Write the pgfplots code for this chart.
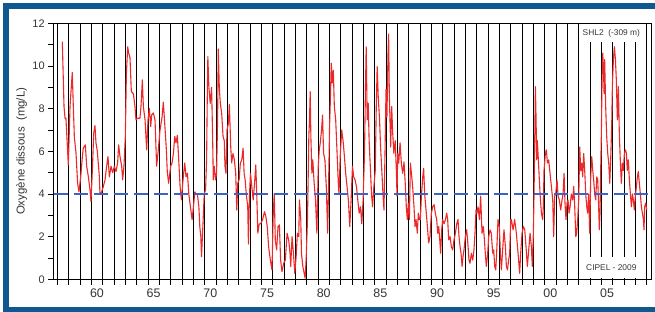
\documentclass[border=0pt]{standalone}
\usepackage{fontspec}
\setmainfont{Liberation Sans}
\usepackage{pgfplots}
\pgfplotsset{compat=1.18}
\definecolor{frameblue}{RGB}{16,88,144}
\definecolor{dataRed}{RGB}{236,40,40}
\definecolor{dashblue}{RGB}{60,100,200}
\definecolor{txtgray}{RGB}{55,55,55}
\begin{document}
\begin{tikzpicture}[x=1bp,y=1bp]
\useasboundingbox (0,0) rectangle (655,311);
\fill[white] (0,0) rectangle (655,311);
\begin{scope}
\clip (0,0) rectangle (655,311);
\draw[frameblue, line width=6bp] (6.3,1) rectangle (670,304.7);
\end{scope}
\begin{axis}[
  at={(53.7bp,31.7bp)}, anchor=south west,
  width=597.3bp, height=256bp, scale only axis,
  xmin=1956.68, xmax=2009.38, ymin=0, ymax=12,
  /pgf/number format/assume math mode=true,
  axis line style={black, line width=0.8bp},
  tick style={black, line width=0.8bp},
  tick align=outside, tick pos=left,
  xtick={1957,...,2009}, xticklabels={},
  major tick length=5.5bp, minor tick length=5.5bp,
  xmajorgrids, major grid style={black, line width=0.8bp},
  extra x ticks={1960.5,1965.5,1970.5,1975.5,1980.5,1985.5,1990.5,1995.5,2000.5,2005.5},
  extra x tick labels={60,65,70,75,80,85,90,95,00,05},
  extra x tick style={grid=none, major tick length=0pt, xticklabel style={yshift=-6bp}},
  xticklabel style={font=\fontsize{12.5}{13}\selectfont, text=txtgray},
  ytick={0,2,...,12}, minor ytick={1,3,...,11},
  yticklabel style={font=\fontsize{11}{12}\selectfont, text=txtgray},
  ylabel={Oxygène dissous\ \ (mg/L)},
  ylabel style={font=\fontsize{11.5}{12}\selectfont, text=txtgray, at={(axis description cs:0,0.5)}, anchor=center, yshift=32bp},
]
\addplot[dataRed, line width=1.1bp, line join=round] coordinates {
(1957.44,11.14) (1957.59,8.10) (1957.68,7.55) (1957.76,7.55) (1957.97,5.36) (1958.12,8.10) (1958.18,8.60) (1958.32,9.70) (1958.41,8.10) (1958.50,6.70) (1958.65,5.90) (1958.79,4.50) (1958.91,4.10) (1959.06,4.80) (1959.21,5.75) (1959.29,6.15) (1959.47,6.30) (1959.59,5.30) (1959.74,4.80) (1959.88,4.20) (1959.97,3.65) (1960.09,5.10) (1960.21,6.85) (1960.32,7.20) (1960.41,6.40) (1960.53,6.00) (1960.71,4.80) (1960.76,4.00) (1960.91,4.10) (1961.06,4.35) (1961.21,4.66) (1961.35,5.30) (1961.47,5.75) (1961.59,4.80) (1961.74,5.30) (1961.88,5.00) (1962.03,5.30) (1962.18,5.05) (1962.32,5.45) (1962.41,6.30) (1962.53,5.75) (1962.68,5.30) (1962.76,4.66) (1962.88,5.30) (1963.00,6.70) (1963.09,9.60) (1963.21,10.90) (1963.29,10.60) (1963.41,10.40) (1963.53,8.80) (1963.71,8.70) (1963.85,8.10) (1963.94,7.47) (1964.09,7.55) (1964.29,7.55) (1964.38,8.10) (1964.50,9.35) (1964.59,8.10) (1964.74,7.47) (1964.88,6.07) (1965.00,7.47) (1965.12,8.00) (1965.24,7.16) (1965.32,7.70) (1965.47,7.80) (1965.62,7.47) (1965.76,5.30) (1965.91,6.07) (1966.06,7.00) (1966.24,7.60) (1966.35,8.30) (1966.50,7.10)
(1966.62,6.07) (1966.70,5.05) (1966.82,4.50) (1967.00,5.30) (1967.12,5.45) (1967.24,5.90) (1967.36,6.70) (1967.47,6.40) (1967.59,6.75) (1967.71,5.60) (1967.83,4.35) (1967.95,3.72) (1968.09,4.66) (1968.24,5.45) (1968.36,4.80) (1968.48,4.97) (1968.60,4.00) (1968.78,3.25) (1968.89,2.80) (1969.01,3.40) (1969.13,4.10) (1969.25,4.00) (1969.37,3.95) (1969.49,3.40) (1969.57,2.47) (1969.66,2.00) (1969.72,1.06) (1969.84,2.47) (1969.96,4.00) (1970.08,4.20) (1970.17,5.60) (1970.22,8.10) (1970.28,10.44) (1970.37,9.00) (1970.49,8.25) (1970.61,9.00) (1970.70,6.70) (1970.76,4.66) (1970.85,5.30) (1970.96,4.66) (1971.05,4.97) (1971.14,7.47) (1971.20,10.80) (1971.29,9.00) (1971.38,8.25) (1971.50,7.80) (1971.62,6.70) (1971.73,6.50) (1971.79,5.30) (1971.88,4.97) (1971.97,7.00) (1972.09,7.30) (1972.18,8.20) (1972.30,6.20) (1972.38,5.45) (1972.50,5.90) (1972.62,5.60) (1972.74,4.97) (1972.83,3.25) (1972.92,4.50) (1973.04,4.66) (1973.15,5.45) (1973.27,5.60) (1973.39,6.15) (1973.48,4.97) (1973.57,4.66) (1973.69,3.90) (1973.80,3.40) (1973.86,1.65) (1973.95,3.90) (1974.04,4.97) (1974.16,4.35) (1974.28,3.72) (1974.40,4.50) (1974.51,5.36) (1974.60,3.90) (1974.69,2.16) (1974.81,2.60) (1974.93,2.60) (1975.11,2.80) (1975.28,3.17) (1975.40,2.94) (1975.52,2.47) (1975.64,1.54) (1975.79,0.91) (1975.94,0.44) (1976.05,3.10) (1976.14,4.00) (1976.23,1.85) (1976.35,1.38) (1976.47,2.47) (1976.59,2.55) (1976.70,0.91) (1976.82,0.36) (1976.97,0.75) (1977.12,0.91) (1977.27,2.16) (1977.41,1.85) (1977.53,1.22)
(1977.59,0.60) (1977.71,2.00) (1977.83,1.22) (1977.95,0.28) (1978.07,1.07) (1978.18,2.16) (1978.30,2.00) (1978.36,3.72) (1978.48,2.80) (1978.54,1.22) (1978.66,0.60) (1978.78,0.28) (1978.86,0.05) (1978.95,0.91) (1979.07,2.80) (1979.13,4.66) (1979.19,6.70) (1979.25,7.47) (1979.31,8.80) (1979.37,6.70) (1979.46,4.97) (1979.54,5.60) (1979.66,4.50) (1979.78,3.72) (1979.90,2.16) (1980.02,5.30) (1980.11,6.07) (1980.20,6.40) (1980.31,7.00) (1980.40,7.70) (1980.49,5.90) (1980.61,5.60) (1980.73,4.35) (1980.85,2.16) (1980.93,4.35) (1981.02,7.16) (1981.08,8.25) (1981.17,10.13) (1981.26,9.20) (1981.35,9.80) (1981.44,8.10) (1981.56,7.47) (1981.67,6.07) (1981.79,4.50) (1981.85,4.00) (1981.97,5.90) (1982.09,7.00) (1982.21,6.50) (1982.33,5.75) (1982.44,4.97) (1982.56,4.35) (1982.68,3.72) (1982.80,2.47) (1982.92,3.72) (1983.04,5.30) (1983.15,4.80) (1983.27,4.66) (1983.39,4.35) (1983.51,3.72) (1983.63,3.10) (1983.75,3.40) (1983.86,2.60) (1983.98,3.72) (1984.10,5.90) (1984.19,9.03) (1984.25,10.90) (1984.34,7.47) (1984.43,8.25) (1984.51,6.50) (1984.63,5.10) (1984.72,4.00) (1984.81,3.40) (1984.93,4.35) (1985.05,5.10) (1985.14,8.10) (1985.22,9.97) (1985.31,8.60) (1985.43,7.47) (1985.52,6.20) (1985.64,4.97) (1985.73,4.00) (1985.82,3.25) (1985.91,5.90) (1986.00,8.90) (1986.08,7.60) (1986.17,10.44) (1986.23,11.50) (1986.29,8.70) (1986.35,7.47) (1986.41,6.20) (1986.50,8.10) (1986.59,6.85) (1986.69,5.90) (1986.81,6.50) (1986.92,4.97)
(1986.97,3.90) (1987.03,5.90) (1987.12,5.45) (1987.24,6.40) (1987.35,5.45) (1987.47,4.97) (1987.59,5.50) (1987.71,4.35) (1987.79,3.40) (1987.88,2.80) (1987.97,3.57) (1988.06,2.80) (1988.15,5.45) (1988.24,4.97) (1988.35,4.35) (1988.47,3.40) (1988.56,2.47) (1988.65,2.80) (1988.76,2.16) (1988.85,3.10) (1988.94,2.80) (1989.03,2.80) (1989.12,3.90) (1989.24,4.80) (1989.32,5.20) (1989.41,4.00) (1989.53,3.25) (1989.65,2.47) (1989.76,1.70) (1989.88,2.00) (1990.00,3.10) (1990.12,3.40) (1990.24,3.50) (1990.35,3.10) (1990.47,2.80) (1990.56,2.16) (1990.65,2.47) (1990.74,1.85) (1990.82,1.22) (1990.91,2.32) (1991.00,2.80) (1991.12,2.60) (1991.24,2.80) (1991.35,3.10) (1991.44,2.80) (1991.53,1.85) (1991.65,2.00) (1991.76,1.54) (1991.88,1.38) (1992.00,1.85) (1992.12,2.16) (1992.24,2.60) (1992.35,2.80) (1992.44,2.00) (1992.53,1.54) (1992.62,1.22) (1992.71,0.60) (1992.79,1.06) (1992.88,1.38) (1993.00,2.00) (1993.12,2.32) (1993.24,1.54) (1993.32,0.90) (1993.41,0.75) (1993.53,1.22) (1993.65,0.90) (1993.76,1.38) (1993.85,2.16) (1993.94,3.25) (1994.03,3.10) (1994.12,3.40) (1994.24,2.80) (1994.35,3.90) (1994.47,2.16) (1994.59,2.47) (1994.68,1.85) (1994.76,1.22) (1994.85,0.60) (1994.97,1.22) (1995.06,2.00) (1995.18,2.32) (1995.29,2.16) (1995.41,1.22) (1995.50,1.38) (1995.59,0.60) (1995.68,0.44) (1995.76,1.22) (1995.88,2.80) (1996.00,2.47) (1996.09,1.22) (1996.18,0.44) (1996.29,1.38) (1996.41,2.32) (1996.53,1.54) (1996.62,0.60) (1996.71,0.44) (1996.82,0.90) (1996.91,1.22) (1997.00,2.80)
(1997.06,2.80) (1997.21,2.32) (1997.35,2.80) (1997.50,2.16) (1997.65,1.22) (1997.79,0.28) (1997.88,1.22) (1998.00,2.16) (1998.12,2.47) (1998.24,2.32) (1998.35,1.54) (1998.47,0.60) (1998.59,1.38) (1998.71,2.16) (1998.82,1.54) (1998.91,0.60) (1999.00,2.16) (1999.06,4.00) (1999.12,6.50) (1999.18,9.03) (1999.24,7.47) (1999.29,5.60) (1999.35,6.50) (1999.41,5.90) (1999.50,4.97) (1999.59,4.00) (1999.71,3.10) (1999.82,2.80) (1999.88,3.40) (1999.94,5.10) (2000.06,5.90) (2000.15,6.07) (2000.24,5.45) (2000.35,5.60) (2000.47,4.97) (2000.59,4.35) (2000.71,3.72) (2000.79,2.00) (2000.88,3.90) (2000.97,4.00) (2001.09,4.66) (2001.18,3.90) (2001.29,3.72) (2001.41,3.25) (2001.53,3.72) (2001.62,4.00) (2001.71,4.97) (2001.79,3.57) (2001.88,2.80) (2001.97,3.57) (2002.06,3.72) (2002.15,3.10) (2002.24,3.40) (2002.35,4.00) (2002.47,3.72) (2002.56,4.35) (2002.65,3.40) (2002.74,2.00) (2002.82,2.16) (2002.91,2.80) (2003.00,3.72) (2003.09,6.20) (2003.18,5.10) (2003.26,5.45) (2003.35,4.80) (2003.44,5.90) (2003.53,5.10) (2003.62,4.00) (2003.71,3.40) (2003.79,3.10) (2003.88,4.00) (2003.97,2.16) (2004.06,4.80) (2004.15,5.75) (2004.24,5.10) (2004.32,4.66) (2004.41,4.00) (2004.50,3.72) (2004.59,4.80) (2004.68,4.66) (2004.76,3.40) (2004.82,2.32) (2004.88,3.10) (2004.94,5.10) (2005.00,6.85) (2005.06,9.35) (2005.12,10.60) (2005.18,9.97) (2005.24,8.70) (2005.29,10.30) (2005.38,8.10) (2005.47,6.70) (2005.56,5.90) (2005.65,5.45) (2005.74,4.50) (2005.82,5.60) (2005.91,7.16) (2005.97,9.03) (2006.06,10.30) (2006.15,10.90) (2006.24,10.30) (2006.32,9.35) (2006.41,7.47) (2006.50,9.03) (2006.59,6.70) (2006.68,5.45) (2006.76,4.50) (2006.85,5.45) (2006.94,5.10) (2007.03,5.90) (2007.12,6.07) (2007.21,5.90) (2007.29,5.10) (2007.38,5.60) (2007.47,4.66) (2007.56,4.00) (2007.65,3.40) (2007.74,4.00) (2007.82,3.72) (2007.91,3.25) (2008.00,3.90) (2008.09,4.35) (2008.18,4.80) (2008.26,5.05) (2008.35,4.50) (2008.44,4.00) (2008.53,3.40) (2008.62,3.10) (2008.71,2.80) (2008.76,2.32) (2008.82,3.40) (2008.91,3.57) (2009.00,3.25)
};
\addplot[dashblue, line width=1.3bp, dash pattern=on 14bp off 6bp] coordinates {(1956.68,4) (2009.38,4)};
\node[fill=white, font=\fontsize{8.4}{9}\selectfont, text=txtgray, inner xsep=1bp, inner ysep=0pt, minimum height=18bp, anchor=north] at (axis cs:2005.88,11.97) {SHL2\ \ (-309 m)};
\node[fill=white, font=\fontsize{8.4}{9}\selectfont, text=txtgray, inner xsep=1bp, inner ysep=0pt, minimum height=21.5bp, anchor=south] at (axis cs:2005.88,0.03) {CIPEL - 2009};
\end{axis}
\end{tikzpicture}
\end{document}
